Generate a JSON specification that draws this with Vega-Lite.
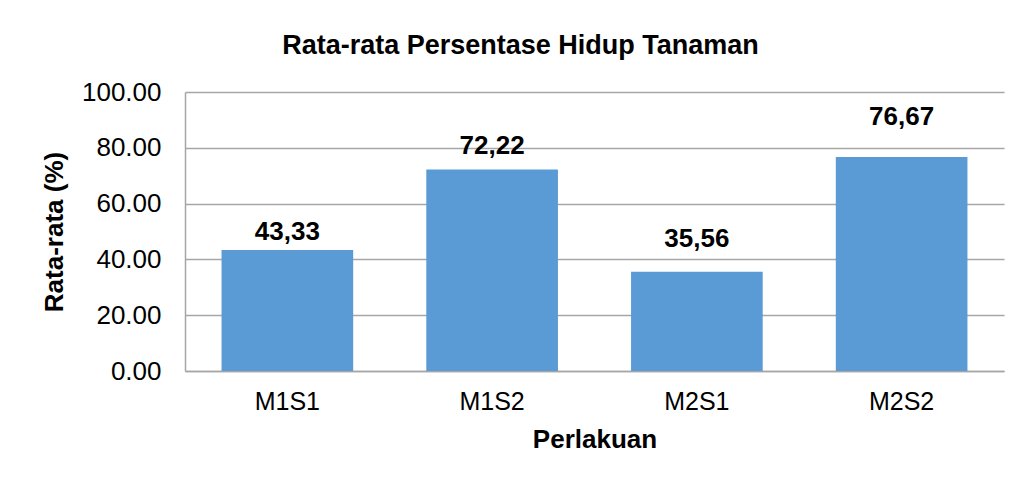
{
  "$schema": "https://vega.github.io/schema/vega-lite/v6.json",
  "width": 819,
  "height": 279,
  "autosize": {"type": "none"},
  "padding": {"left": 185, "top": 92, "right": 20, "bottom": 112},
  "background": "white",
  "config": {
    "font": "Liberation Sans",
    "view": {"stroke": null},
    "text": {"baseline": "alphabetic", "fontSize": 26, "fontWeight": "bold", "color": "#000000"}
  },
  "title": {
    "text": "Rata-rata Persentase Hidup Tanaman",
    "fontSize": 27,
    "fontWeight": "bold",
    "color": "#000000",
    "anchor": "middle",
    "frame": "group",
    "dx": -74,
    "offset": -2,
    "baseline": "alphabetic"
  },
  "data": {
    "values": [
      {"perlakuan": "M1S1", "nilai": 43.33, "label": "43,33"},
      {"perlakuan": "M1S2", "nilai": 72.22, "label": "72,22"},
      {"perlakuan": "M2S1", "nilai": 35.56, "label": "35,56"},
      {"perlakuan": "M2S2", "nilai": 76.67, "label": "76,67"}
    ]
  },
  "encoding": {
    "x": {
      "field": "perlakuan",
      "type": "nominal",
      "sort": null,
      "scale": {"paddingInner": 0, "paddingOuter": 0},
      "axis": {
        "title": "Perlakuan",
        "titleFontSize": 26,
        "titleFontWeight": "bold",
        "titleColor": "#000000",
        "titlePadding": 12,
        "labelFontSize": 25,
        "labelColor": "#000000",
        "labelAngle": 0,
        "labelPadding": 18,
        "ticks": false,
        "domainColor": "#A6A6A6",
        "domainWidth": 1.5,
        "grid": false
      }
    },
    "y": {
      "field": "nilai",
      "type": "quantitative",
      "scale": {"domain": [0, 100], "nice": false},
      "axis": {
        "title": "Rata-rata (%)",
        "titleFontSize": 26,
        "titleFontWeight": "bold",
        "titleColor": "#000000",
        "titlePadding": 14,
        "values": [0, 20, 40, 60, 80, 100],
        "format": ".2f",
        "labelFontSize": 26,
        "labelColor": "#000000",
        "labelPadding": 24,
        "ticks": false,
        "domainColor": "#A6A6A6",
        "domainWidth": 1.5,
        "gridColor": "#A6A6A6",
        "gridWidth": 1.5
      }
    },
    "text": {"field": "label"}
  },
  "layer": [
    {
      "mark": {"type": "bar", "color": "#5B9BD5", "width": {"band": 0.643}},
      "encoding": {"text": null}
    },
    {
      "transform": [{"filter": "datum.perlakuan == 'M1S1'"}],
      "mark": {"type": "text", "dy": -10}
    },
    {
      "transform": [{"filter": "datum.perlakuan == 'M1S2'"}],
      "mark": {"type": "text", "dy": -16}
    },
    {
      "transform": [{"filter": "datum.perlakuan == 'M2S1'"}],
      "mark": {"type": "text", "dy": -25}
    },
    {
      "transform": [{"filter": "datum.perlakuan == 'M2S2'"}],
      "mark": {"type": "text", "dy": -32}
    }
  ]
}
